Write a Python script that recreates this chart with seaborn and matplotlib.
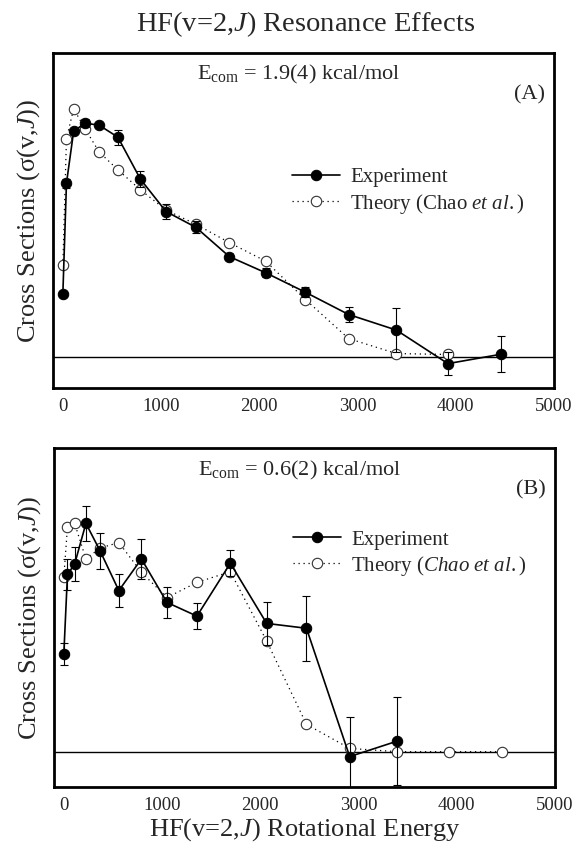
import numpy as np
import seaborn as sns
from matplotlib import pyplot as plt

# HF(v=2,J) rotational energies and cross sections
energy = [0, 37, 110, 225, 370, 560, 790, 1050, 1355, 1695, 2065, 2470, 2910, 3395, 3920, 4465]

expt_a = [2.05, 5.70, 7.40, 7.67, 7.60, 7.21, 5.83, 4.77, 4.25, 3.29, 2.76, 2.12, 1.39, 0.88, -0.22, 0.09]
expt_a_err = [0.10, 0.15, 0.10, 0.12, 0.08, 0.25, 0.27, 0.25, 0.20, 0.12, 0.15, 0.16, 0.25, 0.72, 0.38, 0.60]
theory_a = [3.01, 7.16, 8.14, 7.49, 6.72, 6.14, 5.48, 4.82, 4.35, 3.75, 3.14, 1.88, 0.60, 0.11, 0.08]

expt_b = [3.21, 5.83, 6.17, 7.51, 6.60, 5.30, 6.34, 4.91, 4.46, 6.20, 4.22, 4.06, -0.16, 0.35]
expt_b_err = [0.35, 0.50, 0.56, 0.58, 0.60, 0.53, 0.66, 0.52, 0.44, 0.43, 0.71, 1.07, 1.29, 1.46]
theory_b = [5.75, 7.38, 7.51, 6.34, 6.70, 6.88, 5.90, 5.07, 5.57, 5.92, 3.64, 0.90, 0.11, 0.0, 0.0, 0.0]

xticks = [0, 1000, 2000, 3000, 4000, 5000]

sns.set_style("white")
plt.rcParams['font.family'] = ['Liberation Serif', 'DejaVu Serif']
plt.rcParams['mathtext.fontset'] = 'custom'
plt.rcParams['mathtext.rm'] = 'Liberation Serif'
plt.rcParams['mathtext.it'] = 'Liberation Serif:italic'

fig = plt.figure(figsize=(5.8, 8.52), dpi=100)
ax_a = fig.add_axes([0.0914, 0.5446, 0.8638, 0.3932])
ax_b = fig.add_axes([0.0931, 0.0763, 0.8638, 0.3979])

panels = [
    (ax_a, expt_a, expt_a_err, theory_a, '1.9(4)', '(A)', r'Theory (Chao $\mathit{et\ al.}$)', (-1.02, 9.97), 0.657),
    (ax_b, expt_b, expt_b_err, theory_b, '0.6(2)', '(B)', r'Theory ($\mathit{Chao\ et\ al.}$)', (-1.16, 9.99), 0.758),
]

for ax, expt, err, theory, ecom, tag, theory_label, ylim, leg_y in panels:
    ax.axhline(0, color='black', lw=1.0, zorder=1)

    sns.lineplot(x=energy[:len(theory)], y=theory, ax=ax, color='black', lw=0.9,
                 linestyle=(0, (1, 3)), marker='o', markersize=7.5,
                 markerfacecolor='white', markeredgecolor='#333333', markeredgewidth=0.8,
                 label=theory_label, zorder=2)
    ax.errorbar(energy[:len(expt)], expt, yerr=err, fmt='none', ecolor='black',
                elinewidth=0.8, capsize=3, capthick=0.8, zorder=3)
    sns.lineplot(x=energy[:len(expt)], y=expt, ax=ax, color='black', lw=1.2,
                 marker='o', markersize=7.5, markerfacecolor='black',
                 markeredgecolor='black', label='Experiment', zorder=4)

    ax.set_xlim(-100, 5000)
    ax.set_ylim(*ylim)
    ax.set_xticks(xticks)
    ax.set_yticks([])
    ax.tick_params(axis='x', direction='in', length=6, width=1, labelsize=13.5, pad=7)
    for s in ax.spines.values():
        s.set_linewidth(2.0)
        s.set_color('black')

    ax.text(0.49, 0.935, r'E$_{\rm com}$ = ' + ecom + ' kcal/mol', transform=ax.transAxes,
            ha='center', va='center', fontsize=16)
    ax.text(0.952, 0.875, tag, transform=ax.transAxes, ha='center', va='center', fontsize=16)

    handles, labels = ax.get_legend_handles_labels()
    ax.legend(handles[::-1], labels[::-1], loc='upper left', bbox_to_anchor=(0.477, leg_y),
              frameon=False, fontsize=15, handlelength=2.3, handletextpad=0.5,
              labelspacing=0.2, borderpad=0, borderaxespad=0)

    ax.set_ylabel(r'Cross Sections (σ(v,$\mathit{J}$))', fontsize=19, labelpad=8)

ax_b.set_xlabel(r'HF(v=2,$\mathit{J}$) Rotational Energy', fontsize=19, labelpad=2)
fig.text(0.526, 1 - 24 / 852, r'HF(v=2,$\mathit{J}$) Resonance Effects',
         ha='center', va='center', fontsize=20.5)

plt.savefig('out.png', dpi=100)
